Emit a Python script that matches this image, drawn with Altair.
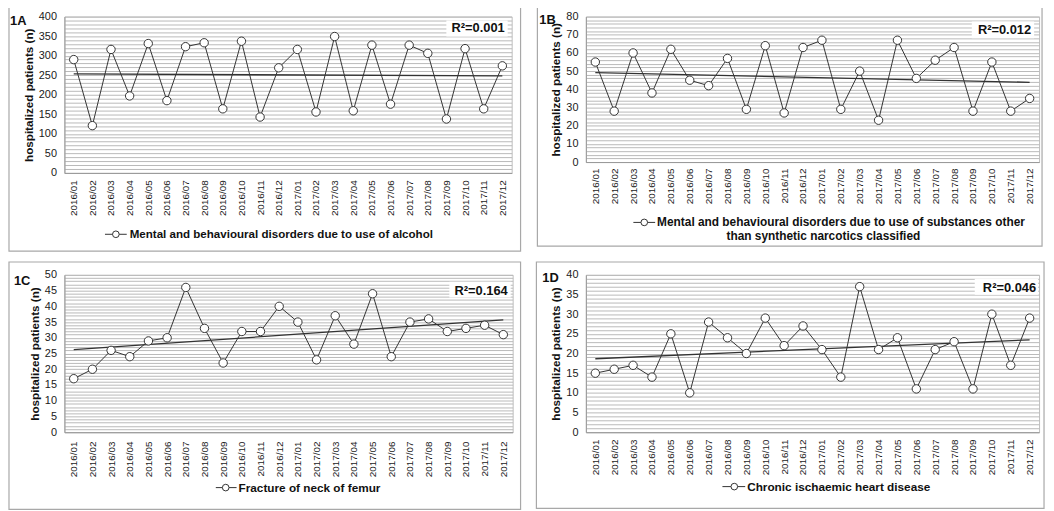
import altair as alt
import pandas as pd

months = ["2016/01", "2016/02", "2016/03", "2016/04", "2016/05", "2016/06",
          "2016/07", "2016/08", "2016/09", "2016/10", "2016/11", "2016/12",
          "2017/01", "2017/02", "2017/03", "2017/04", "2017/05", "2017/06",
          "2017/07", "2017/08", "2017/09", "2017/10", "2017/11", "2017/12"]

alcohol = [290, 121, 316, 197, 331, 185, 323, 333, 164, 337, 143, 269,
           316, 156, 349, 159, 327, 176, 327, 306, 138, 318, 164, 274]
substances = [55, 28, 60, 38, 62, 45, 42, 57, 29, 64, 27, 63,
              67, 29, 50, 23, 67, 46, 56, 63, 28, 55, 28, 35]
femur = [17, 20, 26, 24, 29, 30, 46, 33, 22, 32, 32, 40,
         35, 23, 37, 28, 44, 24, 35, 36, 32, 33, 34, 31]
heart = [15, 16, 17, 14, 25, 10, 28, 24, 20, 29, 22, 27,
         21, 14, 37, 21, 24, 11, 21, 23, 11, 30, 17, 29]

tags = ["1A", "1B", "1C", "1D"]
r2_labels = ["R\u00b2=0.001", "R\u00b2=0.012", "R\u00b2=0.164", "R\u00b2=0.046"]
legend_texts = [
    ["Mental and behavioural disorders due to use of alcohol"],
    ["Mental and behavioural disorders due to use of substances other",
     "than synthetic narcotics classified"],
    ["Fracture of neck of femur"],
    ["Chronic ischaemic heart disease"],
]
y_max = [400, 80, 50, 40]
grid_step = [10, 2, 1, 1]
label_step = [50, 10, 5, 5]
y_title = "hospitalized patients (n)"

FONT = "Liberation Sans"
INK = "#333333"
GRID = "#b9b9b9"
FRAME = "#a8a8a8"

months_js = "[" + ",".join("'" + m + "'" for m in months) + "]"

# layout (pixels, relative to each plot area)
layout = [
    dict(w=452, h=158, border=(-56, -10, 461, 237), tag=(-55, 9), r2=(445, 16),
         box=(386, 4, 448, 20), leg=(41, 63, 52, 66, 220), leg2=None, xpad=7, lfs=11.7),
    dict(w=458, h=147, border=(-49, -10, 461, 232), tag=(-47, 7), r2=(450, 18),
         box=(390, 5, 453, 22), leg=(48, 70, 59, 72, 208), leg2=(240, 222), xpad=6, lfs=12.0),
    dict(w=453, h=159, border=(-56, -13, 461, 237), tag=(-51, 10), r2=(448, 20),
         box=(389, 7, 451, 23), leg=(153, 174, 163, 176, 215), leg2=None, xpad=9, lfs=11.9),
    dict(w=458, h=159, border=(-50, -13, 463, 236), tag=(-44, 7), r2=(455, 17),
         box=(393, 4, 457, 20), leg=(138, 161, 150, 163, 214), leg2=None, xpad=7, lfs=11.9),
]

one = alt.Data(values=[{"a": 1}])


def panel(k, vals):
    L = layout[k]
    df = pd.DataFrame({"i": list(range(24)), "v": vals})
    base = alt.Chart(df)
    x = alt.X("i:Q",
              scale=alt.Scale(domain=[-0.5, 23.5], nice=False, zero=False),
              axis=alt.Axis(values=list(range(24)), labelExpr=months_js + "[datum.value]",
                            labelAngle=270, grid=False, ticks=False, title=None,
                            labelFlush=False, labelOverlap=False, labelPadding=L["xpad"],
                            labelFontSize=10, labelColor="#1a1a1a", domainColor="#999",
                            labelFont=FONT))
    y = alt.Y("v:Q",
              scale=alt.Scale(domain=[0, y_max[k]], nice=False, zero=True),
              axis=alt.Axis(values=list(range(0, y_max[k] + 1, grid_step[k])),
                            labelExpr="datum.value % " + str(label_step[k]) + " === 0 ? datum.label : ''",
                            grid=True, gridColor=GRID, gridWidth=1, ticks=False,
                            labelOverlap=False, labelPadding=8, labelFontSize=11,
                            labelColor="#1a1a1a", labelFont=FONT, domainColor="#999",
                            title=y_title, titleFont=FONT, titleFontSize=11.8,
                            titleFontWeight="bold", titleColor="#111", titlePadding=4))
    trend = base.transform_regression("i", "v", extent=[0, 23]).mark_line(
        color=INK, strokeWidth=1.3).encode(x=x, y=y)
    line = base.mark_line(color=INK, strokeWidth=1).encode(x=x, y=y)
    pts = base.mark_point(shape="circle", size=72, filled=True, color="white",
                          stroke=INK, strokeWidth=1, opacity=1).encode(x=x, y=y)

    bx1, by1, bx2, by2 = L["box"]
    box = alt.Chart(one).mark_rect(fill="white").encode(
        x=alt.value(bx1), x2=alt.value(bx2), y=alt.value(by1), y2=alt.value(by2))
    r2 = alt.Chart(one).mark_text(align="right", baseline="alphabetic", font=FONT,
                                  fontSize=13, fontWeight="bold", color="#111").encode(
        x=alt.value(L["r2"][0]), y=alt.value(L["r2"][1]), text=alt.value(r2_labels[k]))
    tag = alt.Chart(one).mark_text(align="left", baseline="alphabetic", font=FONT,
                                   fontSize=13, fontWeight="bold", color="#111").encode(
        x=alt.value(L["tag"][0]), y=alt.value(L["tag"][1]), text=alt.value(tags[k]))

    lx1, lx2, lcx, ltx, ly = L["leg"]
    lrule = alt.Chart(one).mark_rule(color=INK, strokeWidth=1).encode(
        x=alt.value(lx1), x2=alt.value(lx2), y=alt.value(ly))
    lpt = alt.Chart(one).mark_point(shape="circle", size=45, filled=True, color="white",
                                    stroke=INK, strokeWidth=1, opacity=1).encode(
        x=alt.value(lcx), y=alt.value(ly))
    ltext = alt.Chart(one).mark_text(align="left", baseline="middle", font=FONT,
                                     fontSize=L["lfs"], fontWeight="bold", color="#111").encode(
        x=alt.value(ltx), y=alt.value(ly), text=alt.value(legend_texts[k][0]))
    layers = [trend, line, pts, box, r2, tag, lrule, lpt, ltext]
    if L["leg2"] is not None:
        ltext2 = alt.Chart(one).mark_text(align="center", baseline="middle", font=FONT,
                                          fontSize=L["lfs"], fontWeight="bold", color="#111").encode(
            x=alt.value(L["leg2"][0]), y=alt.value(L["leg2"][1]), text=alt.value(legend_texts[k][1]))
        layers.append(ltext2)

    c1, r1, c2, r2b = L["border"]
    border = alt.Chart(one).mark_rect(fillOpacity=0, stroke=FRAME, strokeWidth=1.2).encode(
        x=alt.value(c1), x2=alt.value(c2), y=alt.value(r1), y2=alt.value(r2b))
    layers.append(border)
    return alt.layer(*layers).properties(width=L["w"], height=L["h"])


pa = panel(0, alcohol)
pb = panel(1, substances)
pc = panel(2, femur)
pd_ = panel(3, heart)

chart = alt.vconcat(
    alt.hconcat(pa, pb, spacing=13),
    alt.hconcat(pc, pd_, spacing=12),
    spacing=7,
).properties(
    padding={"left": -1, "top": -6, "right": 0, "bottom": 0}
).configure_view(stroke="#bdbdbd", strokeWidth=1)

chart.save("out.html", embed_options={"renderer": "svg", "actions": False})
